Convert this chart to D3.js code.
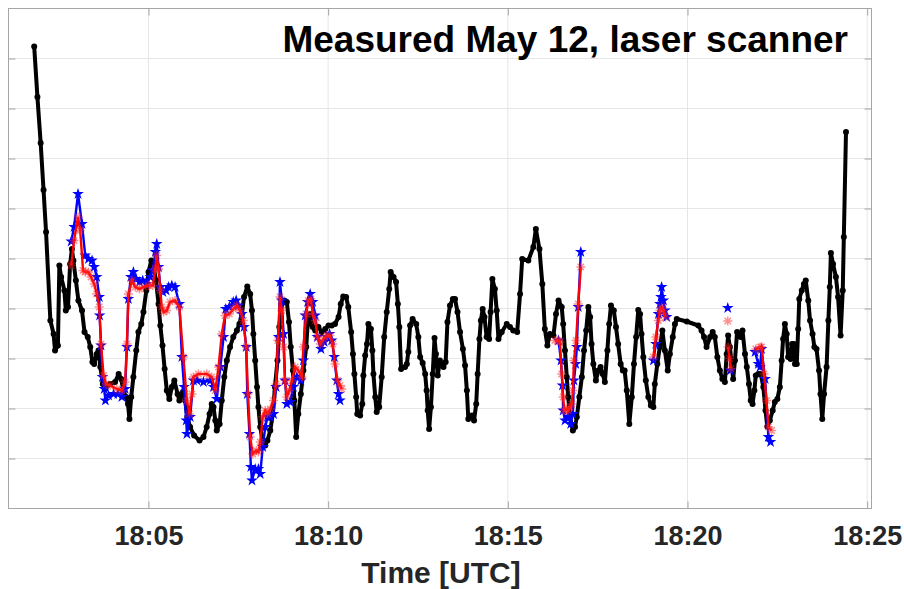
<!DOCTYPE html>
<html>
<head>
<meta charset="utf-8">
<script src="https://cdn.jsdelivr.net/npm/d3@7"></script>
<style>
  html, body { margin: 0; padding: 0; background: #fff; }
  svg { display: block; }
  text { font-family: "Liberation Sans", Arial, sans-serif; }
</style>
</head>
<body>
<svg id="chart" width="904" height="589"></svg>
<script>
// Time axis: minutes after 18:00 UTC on 12 May
const xTickMinutes = [5, 10, 15, 20, 25];
const yGridValues = [1, 2, 3, 4, 5, 6, 7, 8, 9];
const titleText = "Measured May 12, laser scanner";
const xLabelText = "Time [UTC]";

// Scanner trace: [minutes after 18:00, value]
const scanTrace = [
  [1.82,9.24],[1.91,8.23],[2.00,7.31],[2.08,6.37],[2.15,5.53],[2.27,3.76],[2.36,3.49],[2.40,3.16],
  [2.48,3.26],[2.52,4.86],[2.57,4.63],[2.66,4.36],[2.70,3.96],[2.76,4.03],[2.82,4.89],[2.87,5.19],
  [2.91,4.96],[2.98,4.56],[3.05,4.16],[3.15,3.96],[3.22,3.53],[3.31,3.43],[3.38,3.23],[3.44,2.93],
  [3.49,2.89],[3.56,3.09],[3.61,3.16],[3.66,2.83],[3.73,2.49],[3.80,2.39],[3.93,2.49],[4.07,2.53],
  [4.17,2.69],[4.24,2.59],[4.30,2.36],[4.38,2.23],[4.43,2.09],[4.47,1.79],[4.52,2.23],[4.58,2.63],
  [4.66,3.16],[4.72,3.53],[4.80,3.69],[4.86,3.93],[4.94,4.36],[5.00,4.73],[5.08,4.96],[5.14,4.86],
  [5.21,4.56],[5.28,4.09],[5.33,3.66],[5.39,3.26],[5.45,2.79],[5.51,2.36],[5.58,2.19],[5.65,2.43],
  [5.72,2.56],[5.81,2.29],[5.86,2.16],[5.96,2.33],[6.02,2.16],[6.08,1.83],[6.16,1.63],[6.27,1.46],
  [6.42,1.36],[6.53,1.43],[6.62,1.63],[6.70,1.89],[6.76,2.09],[6.81,2.03],[6.86,1.76],[6.90,1.56],
  [6.98,1.69],[7.04,2.16],[7.11,2.63],[7.18,2.96],[7.27,3.23],[7.36,3.43],[7.46,3.56],[7.53,3.69],
  [7.60,3.89],[7.66,4.23],[7.75,4.44],[7.83,4.29],[7.88,3.96],[7.92,3.49],[7.97,2.96],[8.02,2.43],
  [8.06,2.03],[8.11,1.63],[8.18,1.33],[8.25,1.26],[8.31,1.36],[8.39,1.56],[8.46,1.89],[8.52,2.43],
  [8.59,2.96],[8.64,3.63],[8.71,4.09],[8.78,4.16],[8.85,4.13],[8.91,3.73],[8.96,3.23],[9.02,2.76],
  [9.06,2.16],[9.11,1.43],[9.17,1.89],[9.24,2.29],[9.31,2.76],[9.39,3.23],[9.43,3.69],[9.50,3.89],
  [9.57,3.63],[9.64,3.56],[9.73,3.63],[9.82,3.53],[9.92,3.59],[10.01,3.66],[10.10,3.66],[10.19,3.69],
  [10.29,3.83],[10.35,4.09],[10.42,4.24],[10.50,4.23],[10.56,4.03],[10.64,3.53],[10.69,3.09],[10.73,2.69],
  [10.78,2.23],[10.81,1.89],[10.89,1.86],[10.95,2.09],[10.98,2.66],[11.03,3.06],[11.08,3.29],[11.12,3.69],
  [11.19,3.59],[11.23,3.16],[11.26,2.69],[11.31,2.23],[11.35,1.93],[11.42,2.03],[11.49,2.63],[11.56,3.43],
  [11.63,3.93],[11.70,4.39],[11.74,4.73],[11.82,4.63],[11.89,4.53],[11.94,4.09],[11.98,3.63],[12.03,2.79],
  [12.14,2.83],[12.19,2.89],[12.23,3.13],[12.28,3.66],[12.35,3.79],[12.45,3.69],[12.51,3.43],[12.56,3.03],
  [12.63,2.91],[12.70,2.69],[12.74,2.36],[12.77,1.96],[12.81,1.59],[12.86,2.03],[12.91,2.69],[12.96,3.41],
  [13.00,3.09],[13.05,2.66],[13.11,2.96],[13.21,2.83],[13.27,2.93],[13.32,3.73],[13.39,4.06],[13.47,4.19],
  [13.53,4.19],[13.60,3.93],[13.67,3.53],[13.75,3.19],[13.81,2.86],[13.86,2.36],[13.90,1.79],[14.00,1.86],
  [14.06,1.76],[14.12,2.09],[14.16,2.69],[14.21,3.39],[14.25,3.76],[14.30,3.99],[14.35,3.83],[14.41,3.43],
  [14.48,3.39],[14.52,3.93],[14.57,4.59],[14.64,4.39],[14.69,3.96],[14.74,3.39],[14.83,3.53],[14.97,3.69],
  [15.06,3.63],[15.15,3.56],[15.26,3.53],[15.34,4.29],[15.40,4.99],[15.57,4.96],[15.71,5.23],[15.78,5.59],
  [15.88,5.19],[15.96,4.49],[16.03,3.59],[16.10,3.26],[16.17,3.49],[16.27,3.46],[16.34,3.89],[16.41,4.16],
  [16.50,4.03],[16.54,3.69],[16.59,3.16],[16.64,2.63],[16.68,2.23],[16.73,1.83],[16.81,1.56],[16.87,1.63],
  [16.92,1.83],[16.99,2.23],[17.06,2.63],[17.12,3.16],[17.18,3.56],[17.24,4.03],[17.29,3.83],[17.33,3.29],
  [17.38,2.89],[17.45,2.56],[17.52,2.76],[17.58,2.83],[17.64,2.69],[17.70,2.53],[17.77,3.16],[17.82,3.69],
  [17.87,4.06],[17.95,3.96],[18.01,3.63],[18.07,3.29],[18.14,2.89],[18.20,2.76],[18.25,2.76],[18.31,2.36],
  [18.38,1.69],[18.45,2.23],[18.51,2.89],[18.57,3.43],[18.63,3.97],[18.68,3.89],[18.72,3.49],[18.77,3.03],
  [18.84,2.56],[18.91,2.23],[18.98,2.06],[19.05,2.03],[19.09,2.49],[19.16,2.89],[19.23,3.23],[19.30,3.56],
  [19.37,3.16],[19.45,2.76],[19.51,3.09],[19.59,3.43],[19.65,3.69],[19.70,3.79],[19.98,3.74],[20.30,3.66],
  [20.39,3.56],[20.46,3.43],[20.53,3.23],[20.63,3.43],[20.70,3.53],[20.76,3.43],[20.83,3.03],[20.90,2.76],
  [20.97,2.59],[21.04,2.53],[21.09,3.09],[21.13,3.46],[21.18,3.23],[21.23,2.89],[21.27,2.59],[21.32,2.96],
  [21.38,3.53],[21.48,3.43],[21.53,3.56],[21.60,3.09],[21.65,2.83],[21.71,2.49],[21.76,2.16],[21.81,2.09],
  [21.86,2.36],[21.90,2.66],[21.97,2.69],[22.04,2.69],[22.11,2.43],[22.17,1.96],[22.22,1.64],[22.29,1.76],
  [22.37,1.96],[22.43,2.13],[22.50,2.19],[22.57,2.43],[22.62,2.96],[22.66,3.39],[22.71,3.69],[22.76,3.49],
  [22.80,3.03],[22.87,2.99],[22.91,3.29],[22.96,3.29],[22.99,2.89],[23.04,2.89],[23.08,3.59],[23.11,4.19],
  [23.18,4.36],[23.24,4.49],[23.29,4.56],[23.36,4.16],[23.41,3.76],[23.48,3.49],[23.53,3.23],[23.59,3.19],
  [23.66,2.76],[23.70,2.29],[23.75,1.79],[23.80,2.29],[23.87,2.83],[23.92,3.76],[23.96,4.43],[23.99,5.11],
  [24.05,4.89],[24.13,4.63],[24.19,4.23],[24.26,3.46],[24.32,4.36],[24.35,5.43],[24.41,7.53]
];

// Blue star series; null marks a gap between runs
const blueSeries = [
  [2.85,5.34],[2.93,5.63],[3.04,6.29],[3.15,5.69],[3.24,5.06],[3.33,4.99],[3.43,4.96],[3.49,4.83],
  [3.56,4.63],[3.63,4.23],[3.64,3.86],[3.68,3.26],[3.72,2.63],[3.77,2.39],[3.80,2.16],[3.89,2.26],
  [4.03,2.29],[4.15,2.29],[4.26,2.23],[4.35,2.39],[4.40,3.23],[4.44,4.19],[4.51,4.63],[4.58,4.73],
  [4.66,4.59],[4.75,4.53],[4.84,4.56],[4.94,4.49],[5.05,4.63],[5.12,4.76],[5.19,5.13],[5.23,5.29],
  [5.28,4.83],[5.33,4.43],[5.40,4.33],[5.49,4.36],[5.56,4.43],[5.65,4.46],[5.74,4.43],[5.86,4.09],
  [5.93,3.03],[5.99,2.43],[6.05,1.76],[6.07,1.49],[6.16,1.83],[6.25,2.56],[6.35,2.56],[6.53,2.53],
  [6.72,2.56],[6.81,2.43],[6.90,2.19],[7.00,2.83],[7.09,3.43],[7.15,3.99],[7.25,4.03],[7.36,4.13],
  [7.44,4.16],[7.50,4.06],[7.60,3.89],[7.66,3.63],[7.72,3.23],[7.75,2.29],[7.81,1.49],[7.85,0.83],
  [7.88,0.56],[7.97,0.79],[8.06,0.79],[8.11,0.69],[8.18,1.23],[8.25,1.63],[8.31,1.83],[8.39,1.83],
  [8.48,1.89],[8.55,2.43],[8.62,3.43],[8.66,4.53],[8.71,4.16],[8.76,3.49],[8.80,2.56],[8.85,2.09],
  [8.94,2.13],[9.03,2.43],[9.13,2.63],[9.24,2.56],[9.31,2.96],[9.36,3.86],[9.43,4.13],[9.50,4.29],
  [9.57,4.13],[9.64,3.86],[9.70,3.43],[9.80,3.19],[9.89,3.33],[9.96,3.43],[10.04,3.49],[10.10,3.36],
  [10.17,3.03],[10.24,2.56],[10.29,2.29],[10.33,2.16],
  null,
  [16.41,3.36],[16.48,2.96],[16.52,2.46],[16.54,1.96],[16.59,1.76],[16.68,1.83],[16.75,1.69],[16.81,1.89],
  [16.84,2.56],[16.89,2.89],[16.92,3.23],[16.96,4.03],[17.03,5.13],
  null,
  [19.05,2.96],[19.12,3.29],[19.19,3.89],[19.23,4.09],[19.26,4.23],[19.28,4.43],[19.33,4.16],[19.37,3.96],
  [19.42,3.83],
  null,
  [21.12,4.01],
  null,
  [21.19,2.76],
  null,
  [21.88,3.13],[21.97,2.89],[22.02,2.83],[22.06,3.19],[22.16,2.59],[22.25,1.43],[22.31,1.33]
];

// Red asterisk series; null marks a gap between runs
const redSeries = [
  [2.85,4.86],[2.93,5.36],[3.04,5.83],[3.10,5.56],[3.18,4.76],[3.24,4.73],[3.33,4.73],[3.40,4.63],
  [3.49,4.49],[3.56,4.29],[3.63,4.03],[3.68,3.29],[3.75,2.66],[3.82,2.49],[3.93,2.46],[4.12,2.39],
  [4.26,2.36],[4.35,2.53],[4.40,3.29],[4.44,4.29],[4.54,4.56],[4.63,4.43],[4.75,4.39],[4.86,4.43],
  [5.00,4.46],[5.12,4.46],[5.19,4.79],[5.23,5.06],[5.28,4.79],[5.33,4.36],[5.37,4.03],[5.42,3.93],
  [5.51,3.96],[5.60,4.13],[5.74,4.16],[5.86,4.03],[5.97,3.03],[6.07,2.16],[6.14,1.89],[6.21,2.29],
  [6.25,2.63],[6.39,2.69],[6.62,2.69],[6.76,2.63],[6.86,2.36],[6.95,2.83],[7.04,3.49],[7.13,3.86],
  [7.25,3.89],[7.36,3.99],[7.46,4.06],[7.55,3.96],[7.64,3.76],[7.72,3.23],[7.77,2.29],[7.83,1.43],
  [7.90,1.09],[8.00,1.16],[8.06,1.13],[8.11,1.33],[8.18,1.83],[8.25,1.96],[8.31,1.89],[8.39,1.99],
  [8.48,2.16],[8.55,2.49],[8.60,3.36],[8.66,4.23],[8.71,3.96],[8.76,3.23],[8.80,2.56],[8.85,2.23],
  [8.92,2.36],[8.99,2.56],[9.08,2.83],[9.17,2.76],[9.27,2.63],[9.31,3.23],[9.39,3.89],[9.45,4.16],
  [9.52,4.19],[9.57,3.89],[9.64,3.76],[9.70,3.43],[9.78,3.29],[9.87,3.39],[9.96,3.46],[10.05,3.46],
  [10.13,3.29],[10.19,2.89],[10.26,2.56],[10.33,2.46],[10.38,2.39],
  null,
  [16.31,3.36],[16.41,3.36],[16.45,3.33],[16.50,2.69],[16.54,2.23],[16.57,1.96],[16.62,1.99],[16.68,1.96],
  [16.73,2.03],[16.78,2.09],[16.81,2.36],[16.84,2.96],[16.90,3.36],[16.96,4.09],[17.03,4.83],
  null,
  [19.05,3.03],[19.12,3.43],[19.19,3.76],[19.23,3.96],[19.28,4.03],[19.33,3.96],[19.39,3.83],
  null,
  [21.12,3.75],
  null,
  [21.13,3.23],[21.17,3.00],[21.21,2.80],
  null,
  [21.90,3.19],[22.02,3.23],[22.06,3.23],[22.13,2.69],[22.20,2.16],[22.25,1.63],[22.34,1.56]
];

const base = Date.UTC(2000, 4, 12, 18, 0, 0);
const toDate = m => new Date(base + m * 60000);

const svg = d3.select("#chart");
const plot = { left: 8.5, right: 871.5, top: 8.5, bottom: 508.5 };

const x = d3.scaleUtc()
  .domain([toDate(1.105), toDate(25.12)])
  .range([plot.left, plot.right]);
const y = d3.scaleLinear()
  .domain([0, 10])
  .range([plot.bottom, plot.top]);

const axisColor = "#a6a6a6";
const gridColor = "#e6e6e6";
const textColor = "#262626";

// Grid lines
const grid = svg.append("g");
grid.selectAll("line.gx").data(xTickMinutes).join("line")
  .attr("x1", d => x(toDate(d))).attr("x2", d => x(toDate(d)))
  .attr("y1", plot.top).attr("y2", plot.bottom)
  .attr("stroke", gridColor).attr("stroke-width", 1);
grid.selectAll("line.gy").data(yGridValues).join("line")
  .attr("x1", plot.left).attr("x2", plot.right)
  .attr("y1", d => y(d)).attr("y2", d => y(d))
  .attr("stroke", gridColor).attr("stroke-width", 1);

// Data layers
const lineGen = d3.line()
  .defined(d => d !== null)
  .x(d => x(toDate(d[0])))
  .y(d => y(d[1]));

svg.append("clipPath").attr("id", "plotclip")
  .append("rect")
  .attr("x", plot.left).attr("y", plot.top)
  .attr("width", plot.right - plot.left).attr("height", plot.bottom - plot.top);

const layer = svg.append("g").attr("clip-path", "url(#plotclip)");

// Scanner trace: thick black line with dot markers
layer.append("path")
  .datum(scanTrace)
  .attr("d", lineGen)
  .attr("fill", "none")
  .attr("stroke", "#000")
  .attr("stroke-width", 4)
  .attr("stroke-linejoin", "round");
layer.append("g").selectAll("circle").data(scanTrace).join("circle")
  .attr("cx", d => x(toDate(d[0])))
  .attr("cy", d => y(d[1]))
  .attr("r", 3)
  .attr("fill", "#000");

// Blue series with pentagram markers
layer.append("path")
  .datum(blueSeries)
  .attr("d", lineGen)
  .attr("fill", "none")
  .attr("stroke", "#0000ff")
  .attr("stroke-width", 2.4);
const star = d3.symbol().type(d3.symbolStar).size(42);
layer.append("g").selectAll("path").data(blueSeries.filter(d => d)).join("path")
  .attr("transform", d => `translate(${x(toDate(d[0]))},${y(d[1])})`)
  .attr("d", star)
  .attr("fill", "#0000ff");

// Red series with asterisk markers
layer.append("path")
  .datum(redSeries)
  .attr("d", lineGen)
  .attr("fill", "none")
  .attr("stroke", "#ff0000")
  .attr("stroke-width", 2.4);
const ast = "M-4.5,0H4.5M0,-4.5V4.5M-3.2,-3.2L3.2,3.2M-3.2,3.2L3.2,-3.2";
layer.append("g").selectAll("path").data(redSeries.filter(d => d)).join("path")
  .attr("transform", d => `translate(${x(toDate(d[0]))},${y(d[1])})`)
  .attr("d", ast)
  .attr("fill", "none")
  .attr("stroke", "#ff2020")
  .attr("stroke-opacity", 0.5)
  .attr("stroke-width", 1.5);

// Axes box and inward ticks
const tickLen = 7;
const xAxis = d3.axisBottom(x)
  .tickValues(xTickMinutes.map(toDate))
  .tickFormat(d3.utcFormat("%H:%M"))
  .tickSize(-tickLen)
  .tickPadding(17);
const gx = svg.append("g")
  .attr("transform", `translate(0,${plot.bottom})`)
  .call(xAxis);
gx.select(".domain").remove();
gx.selectAll(".tick line").attr("stroke", axisColor);
gx.selectAll(".tick text")
  .attr("fill", textColor)
  .style("font-family", '"Liberation Sans", Arial, sans-serif')
  .style("font-size", "27px")
  .style("font-weight", "bold");

const gxTop = svg.append("g")
  .attr("transform", `translate(0,${plot.top})`)
  .call(d3.axisTop(x).tickValues(xTickMinutes.map(toDate)).tickSize(-tickLen).tickFormat(""));
gxTop.select(".domain").remove();
gxTop.selectAll(".tick line").attr("stroke", axisColor);

const gyL = svg.append("g")
  .attr("transform", `translate(${plot.left},0)`)
  .call(d3.axisLeft(y).tickValues(yGridValues).tickSize(-tickLen).tickFormat(""));
gyL.select(".domain").remove();
gyL.selectAll(".tick line").attr("stroke", axisColor);

const gyR = svg.append("g")
  .attr("transform", `translate(${plot.right},0)`)
  .call(d3.axisRight(y).tickValues(yGridValues).tickSize(-tickLen).tickFormat(""));
gyR.select(".domain").remove();
gyR.selectAll(".tick line").attr("stroke", axisColor);

svg.append("rect")
  .attr("x", plot.left).attr("y", plot.top)
  .attr("width", plot.right - plot.left).attr("height", plot.bottom - plot.top)
  .attr("fill", "none")
  .attr("stroke", axisColor)
  .attr("stroke-width", 1);

// Title and axis label
svg.append("text")
  .attr("x", 848).attr("y", 52)
  .attr("text-anchor", "end")
  .attr("fill", "#000")
  .style("font-size", "37px")
  .style("font-weight", "bold")
  .text(titleText);

svg.append("text")
  .attr("x", 441).attr("y", 583)
  .attr("text-anchor", "middle")
  .attr("fill", textColor)
  .style("font-size", "30px")
  .style("font-weight", "bold")
  .text(xLabelText);
</script>
</body>
</html>
